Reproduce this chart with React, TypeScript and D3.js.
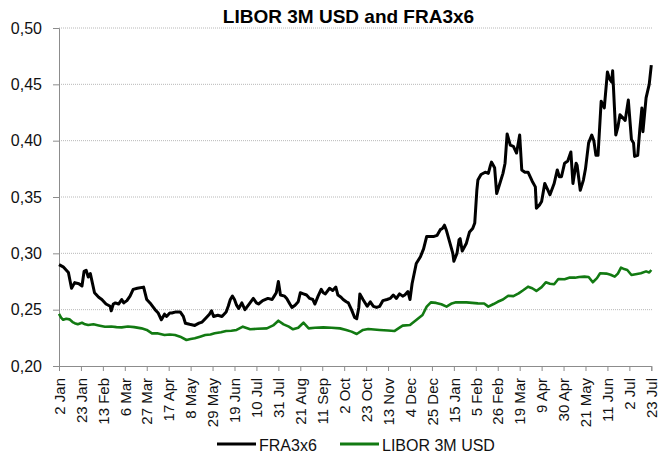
import React, { useEffect, useRef } from 'react';
import * as d3 from 'd3';

// days counted from 2 Jan 2014
const START = '2014-01-02';

const fraDays = [0, 4, 9, 12, 15, 19, 22, 24, 26, 28, 30, 34, 38, 41, 45, 49, 50, 52, 54, 57, 60, 62, 65, 68, 71, 75, 81, 84, 88, 92, 95, 98, 101, 103, 106, 108, 112, 116, 119, 121, 125, 130, 134, 137, 140, 144, 146, 148, 152, 156, 160, 162, 164, 166, 168, 170, 172, 175, 178, 182, 186, 189, 191, 195, 200, 204, 206, 208, 210, 212, 216, 218, 221, 223, 226, 229, 231, 234, 237, 240, 243, 245, 248, 251, 253, 255, 259, 262, 265, 267, 270, 272, 275, 277, 280, 283, 285, 287, 288, 291, 295, 298, 301, 304, 307, 310, 314, 317, 320, 323, 326, 329, 331, 334, 336, 338, 342, 346, 349, 352, 356, 359, 362, 365, 367, 369, 371, 374, 377, 378, 381, 383, 384, 386, 390, 393, 396, 398, 400, 401, 404, 408, 411, 413, 414, 417, 419, 422, 425, 427, 429, 432, 435, 438, 441, 443, 446, 449, 453, 456, 457, 460, 462, 465, 468, 470, 474, 477, 479, 481, 484, 487, 490, 492, 495, 496, 499, 502, 504, 507, 510, 512, 514, 516, 519, 522, 525, 527, 529, 530, 533, 535, 537, 540, 542, 545, 548, 550, 551, 554, 556, 558, 559, 562, 565, 567];
const fraValues = [0.290, 0.288, 0.283, 0.269, 0.274, 0.273, 0.271, 0.284, 0.285, 0.279, 0.282, 0.265, 0.261, 0.259, 0.255, 0.253, 0.249, 0.255, 0.256, 0.255, 0.259, 0.256, 0.258, 0.262, 0.268, 0.269, 0.270, 0.259, 0.255, 0.250, 0.247, 0.241, 0.246, 0.244, 0.247, 0.247, 0.248, 0.248, 0.244, 0.238, 0.237, 0.236, 0.238, 0.239, 0.242, 0.246, 0.249, 0.244, 0.245, 0.244, 0.248, 0.253, 0.259, 0.262, 0.259, 0.254, 0.251, 0.256, 0.250, 0.255, 0.260, 0.256, 0.255, 0.258, 0.260, 0.259, 0.262, 0.265, 0.275, 0.263, 0.262, 0.260, 0.255, 0.252, 0.254, 0.257, 0.265, 0.264, 0.263, 0.260, 0.259, 0.255, 0.262, 0.268, 0.265, 0.264, 0.269, 0.267, 0.270, 0.263, 0.261, 0.259, 0.257, 0.256, 0.250, 0.243, 0.242, 0.252, 0.264, 0.259, 0.253, 0.257, 0.253, 0.252, 0.253, 0.258, 0.259, 0.260, 0.263, 0.260, 0.264, 0.262, 0.263, 0.266, 0.259, 0.273, 0.291, 0.297, 0.304, 0.315, 0.315, 0.315, 0.316, 0.321, 0.322, 0.325, 0.320, 0.310, 0.300, 0.293, 0.300, 0.312, 0.313, 0.302, 0.309, 0.319, 0.322, 0.327, 0.356, 0.365, 0.370, 0.372, 0.371, 0.378, 0.381, 0.376, 0.353, 0.362, 0.371, 0.380, 0.406, 0.396, 0.395, 0.389, 0.405, 0.374, 0.372, 0.372, 0.364, 0.359, 0.340, 0.343, 0.346, 0.362, 0.356, 0.352, 0.362, 0.374, 0.368, 0.368, 0.380, 0.382, 0.390, 0.362, 0.380, 0.378, 0.356, 0.365, 0.375, 0.398, 0.405, 0.400, 0.387, 0.387, 0.435, 0.429, 0.461, 0.455, 0.452, 0.462, 0.405, 0.412, 0.423, 0.420, 0.418, 0.436, 0.401, 0.398, 0.386, 0.387, 0.410, 0.429, 0.408, 0.438, 0.450, 0.467];

const liborDays = [0, 2, 4, 7, 10, 13, 15, 18, 22, 25, 28, 33, 38, 44, 50, 55, 60, 66, 72, 79, 84, 89, 94, 101, 106, 111, 116, 122, 126, 130, 135, 140, 145, 149, 155, 160, 165, 170, 176, 183, 190, 199, 205, 210, 215, 220, 224, 229, 234, 239, 245, 253, 261, 269, 275, 280, 285, 291, 296, 307, 315, 321, 326, 329, 336, 342, 348, 352, 356, 361, 366, 371, 376, 380, 390, 401, 407, 411, 416, 420, 425, 430, 435, 440, 444, 449, 453, 457, 462, 466, 470, 474, 478, 484, 489, 494, 498, 503, 507, 511, 515, 518, 524, 528, 532, 535, 538, 541, 544, 548, 552, 557, 562, 565, 567];
const liborValues = [0.2462, 0.243, 0.241, 0.242, 0.2414, 0.239, 0.238, 0.237, 0.2384, 0.237, 0.2364, 0.237, 0.236, 0.2349, 0.235, 0.2345, 0.2343, 0.235, 0.2345, 0.2334, 0.232, 0.229, 0.229, 0.2275, 0.228, 0.2275, 0.226, 0.2231, 0.224, 0.2246, 0.226, 0.2275, 0.228, 0.229, 0.230, 0.231, 0.2313, 0.232, 0.2349, 0.2326, 0.233, 0.2334, 0.236, 0.2402, 0.237, 0.2349, 0.2326, 0.234, 0.2384, 0.2334, 0.234, 0.2343, 0.234, 0.2334, 0.232, 0.2305, 0.2284, 0.232, 0.2328, 0.232, 0.2315, 0.231, 0.234, 0.2358, 0.2364, 0.2408, 0.2453, 0.2527, 0.2565, 0.256, 0.2548, 0.2527, 0.2555, 0.2565, 0.2565, 0.2556, 0.2555, 0.2527, 0.255, 0.257, 0.259, 0.2624, 0.262, 0.2645, 0.267, 0.2704, 0.269, 0.2666, 0.270, 0.2743, 0.273, 0.2725, 0.2772, 0.277, 0.2785, 0.2784, 0.279, 0.2793, 0.279, 0.2743, 0.278, 0.2823, 0.282, 0.281, 0.2793, 0.282, 0.2873, 0.286, 0.2852, 0.2808, 0.2815, 0.2823, 0.284, 0.283, 0.2852];

const tickDates = ['2014-01-02', '2014-01-23', '2014-02-13', '2014-03-06', '2014-03-27', '2014-04-17', '2014-05-08', '2014-05-29', '2014-06-19', '2014-07-10', '2014-07-31', '2014-08-21', '2014-09-11', '2014-10-02', '2014-10-23', '2014-11-13', '2014-12-04', '2014-12-25', '2015-01-15', '2015-02-05', '2015-02-26', '2015-03-19', '2015-04-09', '2015-04-30', '2015-05-21', '2015-06-11', '2015-07-02', '2015-07-23'];
const yTicks = [0.2, 0.25, 0.3, 0.35, 0.4, 0.45, 0.5];

const seriesNames = ['FRA3x6', 'LIBOR 3M USD'];
const seriesColors = ['#000000', '#127a12'];

const FONT = '"Liberation Sans", Arial, sans-serif';

export default function App() {
  const ref = useRef<SVGSVGElement>(null);

  useEffect(() => {
    const width = 658;
    const height = 454;
    const margin = { top: 28, right: 7, bottom: 88, left: 59 };
    const parse = d3.timeParse('%Y-%m-%d');
    const start = parse(START) as Date;

    const svg = d3.select(ref.current);
    svg.selectAll('*').remove();

    const x = d3.scaleTime()
      .domain([start, parse(tickDates[tickDates.length - 1]) as Date])
      .range([margin.left, 651.3]);
    const y = d3.scaleLinear()
      .domain([0.2, 0.5])
      .range([height - margin.bottom, margin.top]);

    // gridlines
    svg.append('g')
      .selectAll('line')
      .data(yTicks.slice(1))
      .join('line')
      .attr('x1', margin.left)
      .attr('x2', width - margin.right + 2)
      .attr('y1', d => y(d))
      .attr('y2', d => y(d))
      .attr('stroke', '#b8b8b8')
      .attr('stroke-width', 1)
      .attr('stroke-dasharray', '1,1');

    const fmtComma = (d: number) => d3.format('.2f')(d).replace('.', ',');

    const yAxis = svg.append('g')
      .attr('transform', `translate(${margin.left},0)`)
      .call(d3.axisLeft(y).tickValues(yTicks).tickSize(6).tickPadding(11).tickFormat(d => fmtComma(d as number)));
    yAxis.select('.domain').attr('stroke', '#8c8c8c');
    yAxis.selectAll('.tick line').attr('stroke', '#8c8c8c');
    yAxis.selectAll('text').attr('font-family', FONT).attr('font-size', 16).attr('fill', '#111');

    const xAxis = svg.append('g')
      .attr('transform', `translate(0,${height - margin.bottom})`)
      .call(d3.axisBottom(x)
        .tickValues(tickDates.map(s => parse(s) as Date))
        .tickSize(5)
        .tickFormat(d => d3.timeFormat('%-d %b')(d as Date)));
    xAxis.select('.domain').attr('stroke', '#8c8c8c');
    xAxis.selectAll('.tick line').attr('stroke', '#8c8c8c');
    xAxis.selectAll('text')
      .attr('font-family', FONT)
      .attr('font-size', 15)
      .attr('fill', '#111')
      .attr('transform', 'rotate(-90)')
      .attr('text-anchor', 'end')
      .attr('x', -12)
      .attr('y', 0)
      .attr('dy', '0.35em');

    const line = d3.line<[number, number]>()
      .x(d => x(d3.timeDay.offset(start, d[0])))
      .y(d => y(d[1]));

    const series: [number, number][][] = [
      fraDays.map((d, i) => [d, fraValues[i]]),
      liborDays.map((d, i) => [d, liborValues[i]]),
    ];

    // draw libor first so FRA sits on top
    [1, 0].forEach(i => {
      svg.append('path')
        .datum(series[i])
        .attr('fill', 'none')
        .attr('stroke', seriesColors[i])
        .attr('stroke-width', i === 0 ? 3 : 2.6)
        .attr('stroke-linejoin', 'round')
        .attr('d', line);
    });

    svg.append('text')
      .attr('x', 348.5)
      .attr('y', 23)
      .attr('text-anchor', 'middle')
      .attr('font-family', FONT)
      .attr('font-weight', 'bold')
      .attr('font-size', 19)
      .text('LIBOR 3M USD and FRA3x6');

    const legendX = [217, 340];
    const legend = svg.append('g');
    seriesNames.forEach((name, i) => {
      legend.append('line')
        .attr('x1', legendX[i])
        .attr('x2', legendX[i] + 39)
        .attr('y1', 444)
        .attr('y2', 444)
        .attr('stroke', seriesColors[i])
        .attr('stroke-width', 3);
      legend.append('text')
        .attr('x', legendX[i] + 42)
        .attr('y', 451)
        .attr('font-family', FONT)
        .attr('font-size', 16)
        .attr('fill', '#111')
        .text(name);
    });
  }, []);

  return (
    <svg ref={ref} width={658} height={454} style={{ position: 'absolute', left: 0, top: 0, background: '#fff' }} />
  );
}
